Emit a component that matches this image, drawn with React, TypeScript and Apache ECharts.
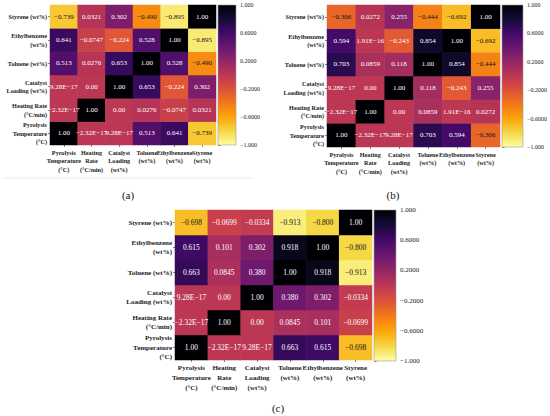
import React, { useEffect, useRef } from "react";
import * as echarts from "echarts";

// Variables, ordered from bottom (y index 0) to top, and left to right on x
const yLabels = [
  "Pyrolysis\nTemperature\n(°C)",
  "Heating Rate\n(°C/min)",
  "Catalyst\nLoading (wt%)",
  "Toluene (wt%)",
  "Ethylbenzene\n(wt%)",
  "Styrene (wt%)",
];
const xLabels = [
  "Pyrolysis\nTemperature\n(°C)",
  "Heating\nRate\n(°C/min)",
  "Catalyst\nLoading\n(wt%)",
  "Toluene\n(wt%)",
  "Ethylbenzene\n(wt%)",
  "Styrene\n(wt%)",
];

// Correlation matrices, row/col order: Pyrolysis, Heating, Catalyst, Toluene, Ethylbenzene, Styrene
const corrA = [
  [1.0, -2.32e-17, 9.28e-17, 0.513, 0.641, -0.739],
  [-2.32e-17, 1.0, 0.0, 0.0276, -0.0747, 0.0321],
  [9.28e-17, 0.0, 1.0, 0.653, -0.224, 0.302],
  [0.513, 0.0276, 0.653, 1.0, 0.528, -0.49],
  [0.641, -0.0747, -0.224, 0.528, 1.0, -0.895],
  [-0.739, 0.0321, 0.302, -0.49, -0.895, 1.0],
];
const corrB = [
  [1.0, -2.32e-17, 9.28e-17, 0.703, 0.594, -0.306],
  [-2.32e-17, 1.0, 0.0, 0.0859, 1.91e-16, 0.0272],
  [9.28e-17, 0.0, 1.0, 0.118, -0.243, 0.255],
  [0.703, 0.0859, 0.118, 1.0, 0.854, -0.444],
  [0.594, 1.91e-16, -0.243, 0.854, 1.0, -0.692],
  [-0.306, 0.0272, 0.255, -0.444, -0.692, 1.0],
];
const corrC = [
  [1.0, -2.32e-17, 9.28e-17, 0.663, 0.615, -0.698],
  [-2.32e-17, 1.0, 0.0, 0.0845, 0.101, -0.0699],
  [9.28e-17, 0.0, 1.0, 0.38, 0.302, -0.0334],
  [0.663, 0.0845, 0.38, 1.0, 0.918, -0.913],
  [0.615, 0.101, 0.302, 0.918, 1.0, -0.8],
  [-0.698, -0.0699, -0.0334, -0.913, -0.8, 1.0],
];

const colorbarTicks = [-1, -0.6, -0.2, 0.2, 0.6, 1];
const panelTags = ["(a)", "(b)", "(c)"];

// inferno colormap, reversed (value -1 -> pale yellow, +1 -> black)
const infernoReversed = [
  "#fcffa4", "#f6d746", "#fca50a", "#f37819", "#dd513a", "#bc3754",
  "#932667", "#6a176e", "#420a68", "#160b39", "#000004",
];

const FONT = "'Liberation Serif', 'DejaVu Serif', serif";

const fmtCell = (v: number) => {
  let s = v.toPrecision(3);
  if (s.includes("e")) {
    const [m, e] = s.split("e");
    s = m + "E" + e.replace("+", "");
  }
  return s.replace(/-/g, "\u2212");
};
const fmtBar = (v: number) => {
  const s = Math.abs(Math.abs(v) - 1) < 1e-9 ? v.toFixed(3) : v.toFixed(4);
  return s.replace(/-/g, "\u2212");
};

const layouts = [
  {
    grid: { left: 50, top: 5, width: 166, height: 140 },
    bar: { left: 218, top: 5, width: 18, height: 140 },
    axisFont: 6.2, lineH: 8.6, cellFont: 7, barFont: 6, tag: [128, 195],
  },
  {
    grid: { left: 327, top: 5, width: 173, height: 142 },
    bar: { left: 502, top: 5, width: 21, height: 142 },
    axisFont: 6.2, lineH: 8.6, cellFont: 7, barFont: 6, tag: [393, 195],
  },
  {
    grid: { left: 175, top: 210, width: 197, height: 150 },
    bar: { left: 374, top: 210, width: 22, height: 151 },
    axisFont: 7, lineH: 9.8, cellFont: 7.5, barFont: 7, tag: [278, 408],
  },
];

export default function App() {
  const ref = useRef<HTMLDivElement>(null);
  useEffect(() => {
    if (!ref.current) return;
    const chart = echarts.init(ref.current, undefined, { renderer: "svg" });
    const matrices = [corrA, corrB, corrC];
    const grids: any[] = [];
    const xAxes: any[] = [];
    const yAxes: any[] = [];
    const series: any[] = [];
    const visualMaps: any[] = [];
    const graphics: any[] = [];
    const gradStops = infernoReversed
      .slice()
      .reverse()
      .map((c, i, arr) => ({ offset: i / (arr.length - 1), color: c }));

    matrices.forEach((m, p) => {
      const L = layouts[p];
      const gi = grids.length;
      grids.push({ ...L.grid, containLabel: false });
      grids.push({ ...L.bar, containLabel: false });
      const axisLabelBase = {
        fontFamily: FONT,
        fontSize: L.axisFont,
        fontWeight: "bold",
        color: "#1a1a1a",
        lineHeight: L.lineH,
        interval: 0,
      };
      xAxes.push({
        type: "category",
        gridIndex: gi,
        data: xLabels,
        axisLine: { show: false },
        axisTick: { show: true, length: 2, alignWithLabel: true, lineStyle: { color: "#333", width: 0.6 } },
        axisLabel: { ...axisLabelBase, margin: 3 },
        splitLine: { show: false },
      });
      yAxes.push({
        type: "category",
        gridIndex: gi,
        data: yLabels,
        axisLine: { show: false },
        axisTick: { show: true, length: 2, alignWithLabel: true, lineStyle: { color: "#333", width: 0.6 } },
        axisLabel: { ...axisLabelBase, margin: 3, align: "right" },
        splitLine: { show: false },
      });
      xAxes.push({ type: "value", gridIndex: gi + 1, min: 0, max: 1, show: false });
      yAxes.push({
        type: "value",
        gridIndex: gi + 1,
        min: -1,
        max: 1,
        position: "right",
        axisLine: { show: false },
        splitLine: { show: false },
        axisTick: {
          show: true,
          length: 2.5,
          customValues: colorbarTicks,
          lineStyle: { color: "#333", width: 0.6 },
        },
        axisLabel: {
          customValues: colorbarTicks,
          formatter: (v: number) => fmtBar(v),
          fontFamily: FONT,
          fontSize: L.barFont,
          color: "#1a1a1a",
          margin: 4,
        },
      });

      const data: any[] = [];
      m.forEach((row, i) =>
        row.forEach((v, j) => {
          data.push({
            value: [j, i, v],
            label: { color: v < -0.27 ? "#111" : "#ffffff" },
          });
        })
      );
      const si = series.length;
      series.push({
        type: "heatmap",
        xAxisIndex: gi,
        yAxisIndex: gi,
        data,
        label: {
          show: true,
          fontFamily: FONT,
          fontSize: L.cellFont,
          formatter: (params: any) => fmtCell(params.value[2]),
        },
        itemStyle: { borderWidth: 0 },
        emphasis: { disabled: true },
      });
      visualMaps.push({
        type: "continuous",
        show: false,
        min: -1,
        max: 1,
        dimension: 2,
        seriesIndex: si,
        inRange: { color: infernoReversed },
      });
      series.push({
        type: "custom",
        xAxisIndex: gi + 1,
        yAxisIndex: gi + 1,
        data: [[0, -1, 1, 1]],
        silent: true,
        renderItem: (_params: any, api: any) => {
          const p0 = api.coord([api.value(0), api.value(2)]);
          const p1 = api.coord([api.value(3), api.value(1)]);
          return {
            type: "rect",
            shape: { x: p0[0], y: p0[1], width: p1[0] - p0[0], height: p1[1] - p0[1] },
            style: {
              fill: new echarts.graphic.LinearGradient(0, 0, 0, 1, gradStops),
              stroke: "#9a9a9a",
              lineWidth: 0.6,
            },
          };
        },
      });
      graphics.push({
        type: "text",
        x: L.tag[0],
        y: L.tag[1],
        style: {
          text: panelTags[p],
          fontFamily: FONT,
          fontSize: 11,
          fill: "#111",
          textAlign: "center",
          textVerticalAlign: "middle",
        },
      });
    });

    graphics.push({
      type: "line",
      shape: { x1: 4, y1: 178, x2: 252, y2: 178 },
      style: { stroke: "#e6e6e6", lineWidth: 0.8 },
    });

    chart.setOption({
      animation: false,
      backgroundColor: "#ffffff",
      grid: grids,
      xAxis: xAxes,
      yAxis: yAxes,
      visualMap: visualMaps,
      series,
      graphic: graphics,
    });
    return () => chart.dispose();
  }, []);
  return (
    <div
      ref={ref}
      style={{ position: "absolute", left: 0, top: 0, width: 550, height: 416, background: "#fff" }}
    />
  );
}
